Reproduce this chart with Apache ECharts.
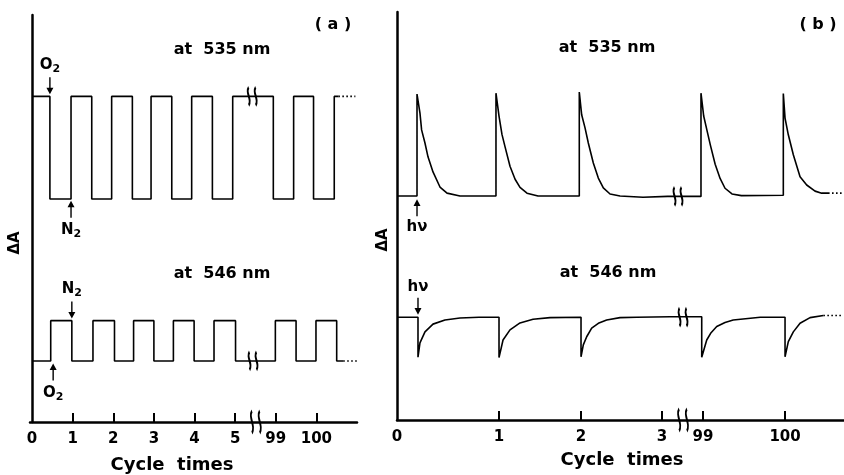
<!DOCTYPE html>
<html>
<head>
<meta charset="utf-8">
<script src="https://cdn.jsdelivr.net/npm/echarts@6/dist/echarts.min.js"></script>
<style>
  html, body { margin: 0; padding: 0; background: #fff; }
  #chart { width: 844px; height: 475px; }
</style>
</head>
<body>
<div id="chart"></div>
<script>
// ---- panel (a): O2 / N2 switching, step traces [x, level] ----
const aTickPos = [1, 2, 3, 4, 5, 6, 7];
const aLabelPos = [0, 1, 2, 3, 4, 5, 6, 7];
const aTickLabels = ['0', '1', '2', '3', '4', '5', '99', '100'];

const a535Steps = [[0, 8.0], [0.44, 5.48], [0.96, 8.0], [1.47, 5.48], [1.96, 8.0], [2.47, 5.48],
  [2.93, 8.0], [3.44, 5.48], [3.93, 8.0], [4.44, 5.48], [4.94, 8.0], [5.94, 5.48], [6.44, 8.0],
  [6.93, 5.48], [7.44, 8.0], [7.54, 8.0]];
const a535Tail = [[7.54, 8.0], [7.96, 8.0]];

const a546Steps = [[0, 1.5], [0.46, 2.49], [0.98, 1.5], [1.5, 2.49], [2.03, 1.5], [2.5, 2.49],
  [3.0, 1.5], [3.48, 2.49], [3.99, 1.5], [4.48, 2.49], [5.01, 1.5], [5.99, 2.49], [6.5, 1.5],
  [6.99, 2.49], [7.5, 1.5], [7.66, 1.5]];
const a546Tail = [[7.66, 1.5], [8.0, 1.5]];

const aBreaks = [[5.42, 8.0], [5.44, 1.5], [5.51, 0]];
// [x, y, arrow direction, label]
const aNotes = [[0.44, 8.26, 'down', 'O{s|2}'], [0.96, 5.23, 'up', 'N{s|2}'],
  [0.98, 2.75, 'down', 'N{s|2}'], [0.52, 1.23, 'up', 'O{s|2}']];

// ---- panel (b): light pulses (hν) ----
const bTickPos = [1.244, 2.244, 3.232, 3.732, 4.732];
const bLabelPos = [0, 1.244, 2.244, 3.232, 3.732, 4.732];
const bTickLabels = ['0', '1', '2', '3', '99', '100'];

const b535Data = [
  [0, 5.49], [0.244, 5.49], [0.244, 7.99], [0.28, 7.52], [0.3, 7.11], [0.341, 6.79], [0.378, 6.45],
  [0.439, 6.08], [0.524, 5.71], [0.61, 5.56], [0.768, 5.49],
  [1.207, 5.49], [1.207, 8.01], [1.244, 7.45], [1.28, 7.0], [1.317, 6.7], [1.378, 6.22], [1.44, 5.9],
  [1.5, 5.7], [1.585, 5.56], [1.72, 5.49],
  [2.223, 5.49], [2.223, 8.04], [2.252, 7.48], [2.293, 7.16], [2.333, 6.79], [2.394, 6.3], [2.455, 5.93],
  [2.516, 5.69], [2.598, 5.54], [2.72, 5.49], [3.0, 5.46], [3.3, 5.48],
  [3.707, 5.48], [3.707, 8.01], [3.74, 7.45], [3.78, 7.1], [3.82, 6.75], [3.88, 6.27], [3.94, 5.92],
  [4.0, 5.68], [4.085, 5.54], [4.2, 5.5],
  [4.711, 5.51], [4.711, 8.0], [4.732, 7.4], [4.772, 6.99], [4.833, 6.5], [4.915, 5.96], [4.996, 5.76],
  [5.098, 5.61], [5.179, 5.56], [5.256, 5.56]
];
const b535Tail = [[5.256, 5.56], [5.423, 5.56]];

const b546Data = [
  [0, 2.52], [0.256, 2.52], [0.256, 1.54], [0.28, 1.89], [0.341, 2.16], [0.439, 2.35], [0.585, 2.45],
  [0.768, 2.5], [1.0, 2.52],
  [1.244, 2.52], [1.244, 1.53], [1.293, 1.96], [1.378, 2.21], [1.5, 2.38], [1.659, 2.47], [1.866, 2.51],
  [2.244, 2.52], [2.244, 1.55], [2.272, 1.84], [2.313, 2.04], [2.374, 2.25], [2.455, 2.37], [2.557, 2.45],
  [2.72, 2.51], [2.923, 2.52], [3.329, 2.53],
  [3.716, 2.53], [3.716, 1.54], [3.777, 1.96], [3.83, 2.14], [3.899, 2.29], [4.0, 2.39], [4.1, 2.45],
  [4.43, 2.52], [4.732, 2.52],
  [4.732, 1.55], [4.772, 1.92], [4.833, 2.16], [4.915, 2.37], [5.037, 2.51], [5.199, 2.56]
];
const b546Tail = [[5.199, 2.56], [5.423, 2.56]];

const bBreaks = [[3.427, 5.48], [3.488, 2.52], [3.488, 0]];
const bNotes = [[0.244, 5.2, 'up', 'hν'], [0.256, 2.79, 'down', 'hν']];

const FONT = '"DejaVu Sans", "Liberation Sans", sans-serif';
const arrowPath = 'path://M3.2,0 L4.8,0 L4.8,11 L8,11 L4,18 L0,11 L3.2,11 Z';
const breakPath = 'path://M3,0 C0,6 6,13 3,20 M9,0 C6,6 12,13 9,20';

var myChart = echarts.init(document.getElementById('chart'));

function nearestLabel(v, pos, labels) {
  let best = 0;
  pos.forEach((p, i) => { if (Math.abs(p - v) < Math.abs(pos[best] - v)) best = i; });
  return labels[best];
}

function xAxisFor(gridIndex, min, max, ticks, labelPos, labels) {
  return {
    gridIndex: gridIndex,
    type: 'value',
    min: min,
    max: max,
    axisLine: { show: true, lineStyle: { color: '#000', width: 2.5 } },
    axisTick: { show: true, inside: true, length: 9, customValues: ticks, lineStyle: { color: '#000', width: 2 } },
    axisLabel: {
      show: true,
      customValues: labelPos,
      margin: 10,
      color: '#000',
      fontFamily: FONT,
      fontWeight: 'bold',
      fontSize: 15,
      formatter: v => nearestLabel(v, labelPos, labels)
    },
    splitLine: { show: false }
  };
}

function yAxisFor(gridIndex) {
  return {
    gridIndex: gridIndex,
    type: 'value',
    min: 0,
    max: 10,
    axisLine: { show: true, lineStyle: { color: '#000', width: 2.5 } },
    axisTick: { show: false },
    axisLabel: { show: false },
    splitLine: { show: false }
  };
}

function trace(idx, data, step) {
  return {
    type: 'line', xAxisIndex: idx, yAxisIndex: idx, data: data, step: step || false,
    showSymbol: false, symbol: 'none', silent: true,
    lineStyle: { color: '#000', width: 1.6 }
  };
}

function tail(idx, data) {
  return {
    type: 'line', xAxisIndex: idx, yAxisIndex: idx, data: data,
    showSymbol: false, symbol: 'none', silent: true,
    lineStyle: { color: '#000', width: 1.6, type: [1.6, 2.4] }
  };
}

function breaks(idx, data) {
  return {
    type: 'scatter', xAxisIndex: idx, yAxisIndex: idx, silent: true, z: 5,
    symbol: breakPath,
    data: data.map(d => ({ value: d, symbolSize: d[1] === 0 ? [10, 22] : [9, 18] })),
    itemStyle: { color: 'rgba(0,0,0,0)', borderColor: '#000', borderWidth: 2.6, opacity: 1 }
  };
}

function notes(idx, data) {
  return {
    type: 'scatter', xAxisIndex: idx, yAxisIndex: idx, silent: true, z: 5,
    symbol: arrowPath, symbolSize: [7, 17],
    itemStyle: { color: '#000', opacity: 1 },
    data: data.map(n => ({
      value: [n[0], n[1]],
      symbolRotate: n[2] === 'up' ? 180 : 0,
      label: {
        show: true,
        position: n[2] === 'up' ? 'bottom' : 'top',
        distance: 3,
        formatter: n[3],
        color: '#000',
        fontFamily: FONT,
        fontWeight: 'bold',
        fontSize: 15,
        rich: { s: { fontFamily: FONT, fontWeight: 'bold', fontSize: 11, padding: [8, 0, 0, 0], color: '#000' } }
      }
    }))
  };
}

function txt(x, y, text, size, rot) {
  return {
    type: 'text', x: x, y: y, rotation: rot || 0, silent: true,
    style: { text: text, fill: '#000', font: 'bold ' + size + 'px ' + FONT, align: 'center', verticalAlign: 'middle' }
  };
}

const option = {
  animation: false,
  backgroundColor: '#fff',
  grid: [
    { left: 30, top: 15, width: 327, height: 407 },
    { left: 397, top: 12, width: 447, height: 408 }
  ],
  xAxis: [
    xAxisFor(0, -0.05, 8, aTickPos, aLabelPos, aTickLabels),
    xAxisFor(1, 0, 5.451, bTickPos, bLabelPos, bTickLabels)
  ],
  yAxis: [yAxisFor(0), yAxisFor(1)],
  series: [
    trace(0, a535Steps, 'end'), tail(0, a535Tail),
    trace(0, a546Steps, 'end'), tail(0, a546Tail),
    breaks(0, aBreaks), notes(0, aNotes),
    trace(1, b535Data), tail(1, b535Tail),
    trace(1, b546Data), tail(1, b546Tail),
    breaks(1, bBreaks), notes(1, bNotes)
  ],
  graphic: [
    txt(333, 25, '( a )', 16),
    txt(222, 50, 'at  535 nm', 16),
    txt(222, 274, 'at  546 nm', 16),
    txt(818, 25, '( b )', 16),
    txt(607, 48, 'at  535 nm', 16),
    txt(608, 273, 'at  546 nm', 16),
    txt(15, 243, 'ΔA', 15, Math.PI / 2),
    txt(383, 240, 'ΔA', 15, Math.PI / 2),
    txt(172, 465, 'Cycle  times', 18),
    txt(622, 460, 'Cycle  times', 18)
  ]
};

myChart.setOption(option);
window.addEventListener('resize', () => { myChart.resize(); });
</script>
</body>
</html>
